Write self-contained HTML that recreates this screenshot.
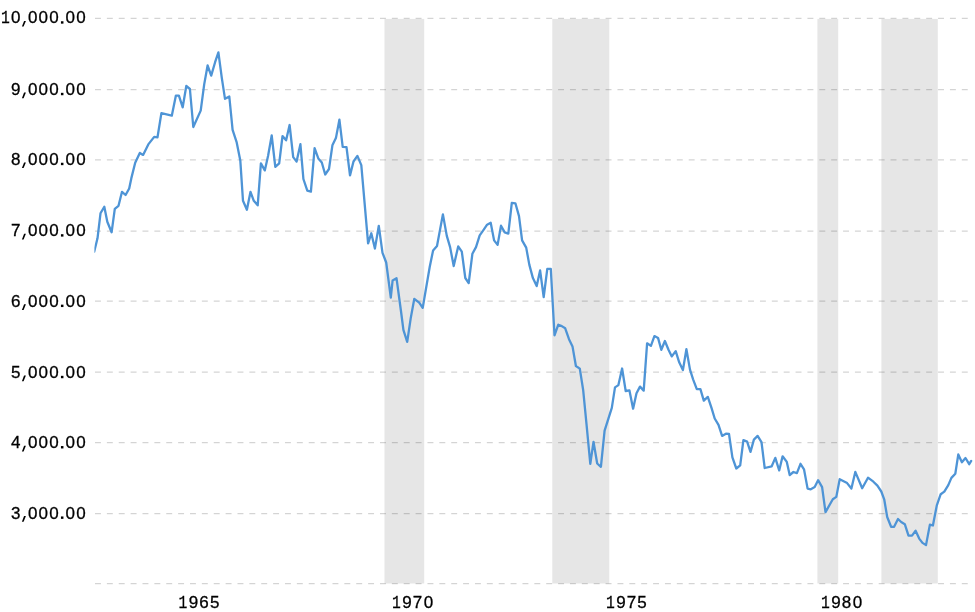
<!DOCTYPE html><html><head><meta charset="utf-8"><style>html,body{margin:0;padding:0;background:#fff;overflow:hidden}svg{display:block;will-change:transform}</style></head><body>
<svg width="975" height="612" viewBox="0 0 975 612">
<rect width="975" height="612" fill="#fff"/>
<rect x="384.5" y="18.9" width="39.7" height="564.6" fill="#e6e6e6"/>
<rect x="552.3" y="18.9" width="57.0" height="564.6" fill="#e6e6e6"/>
<rect x="817.4" y="18.9" width="20.8" height="564.6" fill="#e6e6e6"/>
<rect x="881.4" y="18.9" width="56.4" height="564.6" fill="#e6e6e6"/>
<line x1="95" y1="18.4" x2="970" y2="18.4" stroke="#000" stroke-opacity="0.17" stroke-width="1.25" stroke-dasharray="5.937 5.937"/>
<line x1="95" y1="89.5" x2="970" y2="89.5" stroke="#000" stroke-opacity="0.17" stroke-width="1.25" stroke-dasharray="5.937 5.937"/>
<line x1="95" y1="159.8" x2="970" y2="159.8" stroke="#000" stroke-opacity="0.17" stroke-width="1.25" stroke-dasharray="5.937 5.937"/>
<line x1="95" y1="231.0" x2="970" y2="231.0" stroke="#000" stroke-opacity="0.17" stroke-width="1.25" stroke-dasharray="5.937 5.937"/>
<line x1="95" y1="301.0" x2="970" y2="301.0" stroke="#000" stroke-opacity="0.17" stroke-width="1.25" stroke-dasharray="5.937 5.937"/>
<line x1="95" y1="372.1" x2="970" y2="372.1" stroke="#000" stroke-opacity="0.17" stroke-width="1.25" stroke-dasharray="5.937 5.937"/>
<line x1="95" y1="442.5" x2="970" y2="442.5" stroke="#000" stroke-opacity="0.17" stroke-width="1.25" stroke-dasharray="5.937 5.937"/>
<line x1="95" y1="513.5" x2="970" y2="513.5" stroke="#000" stroke-opacity="0.17" stroke-width="1.25" stroke-dasharray="5.937 5.937"/>
<line x1="95" y1="583.6" x2="970" y2="583.6" stroke="#000" stroke-opacity="0.17" stroke-width="1.25" stroke-dasharray="5.937 5.937"/>
<g font-family="Liberation Sans, sans-serif" font-size="17.0" fill="#000" stroke="#000" stroke-width="0.3">
<text x="5.40" y="23" text-anchor="middle" font-family="Liberation Mono, monospace" font-size="18.5" textLength="8.8" lengthAdjust="spacingAndGlyphs">1</text><text x="15.80" y="23" text-anchor="middle">0</text><path d="M24.10,20.90 L25.90,20.90 L23.60,26.60 L21.90,26.60 Z" stroke="none"/><text x="32.64" y="23" text-anchor="middle">0</text><text x="43.30" y="23" text-anchor="middle">0</text><text x="53.90" y="23" text-anchor="middle">0</text><rect x="60.95" y="21.25" width="2.5" height="2.4" stroke="none"/><text x="70.15" y="23" text-anchor="middle">0</text><text x="80.90" y="23" text-anchor="middle">0</text>
<text x="15.75" y="95" text-anchor="middle">9</text><path d="M24.10,92.47 L25.90,92.47 L23.60,98.17 L21.90,98.17 Z" stroke="none"/><text x="32.64" y="95" text-anchor="middle">0</text><text x="43.30" y="95" text-anchor="middle">0</text><text x="53.90" y="95" text-anchor="middle">0</text><rect x="60.95" y="92.82" width="2.5" height="2.4" stroke="none"/><text x="70.15" y="95" text-anchor="middle">0</text><text x="80.90" y="95" text-anchor="middle">0</text>
<text x="15.75" y="165" text-anchor="middle">8</text><path d="M24.10,162.40 L25.90,162.40 L23.60,168.10 L21.90,168.10 Z" stroke="none"/><text x="32.64" y="165" text-anchor="middle">0</text><text x="43.30" y="165" text-anchor="middle">0</text><text x="53.90" y="165" text-anchor="middle">0</text><rect x="60.95" y="162.75" width="2.5" height="2.4" stroke="none"/><text x="70.15" y="165" text-anchor="middle">0</text><text x="80.90" y="165" text-anchor="middle">0</text>
<text x="15.75" y="236" text-anchor="middle">7</text><path d="M24.10,233.85 L25.90,233.85 L23.60,239.55 L21.90,239.55 Z" stroke="none"/><text x="32.64" y="236" text-anchor="middle">0</text><text x="43.30" y="236" text-anchor="middle">0</text><text x="53.90" y="236" text-anchor="middle">0</text><rect x="60.95" y="234.20" width="2.5" height="2.4" stroke="none"/><text x="70.15" y="236" text-anchor="middle">0</text><text x="80.90" y="236" text-anchor="middle">0</text>
<text x="15.75" y="307" text-anchor="middle">6</text><path d="M24.10,304.30 L25.90,304.30 L23.60,310.00 L21.90,310.00 Z" stroke="none"/><text x="32.64" y="307" text-anchor="middle">0</text><text x="43.30" y="307" text-anchor="middle">0</text><text x="53.90" y="307" text-anchor="middle">0</text><rect x="60.95" y="304.65" width="2.5" height="2.4" stroke="none"/><text x="70.15" y="307" text-anchor="middle">0</text><text x="80.90" y="307" text-anchor="middle">0</text>
<text x="15.75" y="378" text-anchor="middle">5</text><path d="M24.10,375.47 L25.90,375.47 L23.60,381.17 L21.90,381.17 Z" stroke="none"/><text x="32.64" y="378" text-anchor="middle">0</text><text x="43.30" y="378" text-anchor="middle">0</text><text x="53.90" y="378" text-anchor="middle">0</text><rect x="60.95" y="375.82" width="2.5" height="2.4" stroke="none"/><text x="70.15" y="378" text-anchor="middle">0</text><text x="80.90" y="378" text-anchor="middle">0</text>
<text x="15.75" y="448" text-anchor="middle">4</text><path d="M24.10,445.70 L25.90,445.70 L23.60,451.40 L21.90,451.40 Z" stroke="none"/><text x="32.64" y="448" text-anchor="middle">0</text><text x="43.30" y="448" text-anchor="middle">0</text><text x="53.90" y="448" text-anchor="middle">0</text><rect x="60.95" y="446.05" width="2.5" height="2.4" stroke="none"/><text x="70.15" y="448" text-anchor="middle">0</text><text x="80.90" y="448" text-anchor="middle">0</text>
<text x="15.75" y="519" text-anchor="middle">3</text><path d="M24.10,516.10 L25.90,516.10 L23.60,521.80 L21.90,521.80 Z" stroke="none"/><text x="32.64" y="519" text-anchor="middle">0</text><text x="43.30" y="519" text-anchor="middle">0</text><text x="53.90" y="519" text-anchor="middle">0</text><rect x="60.95" y="516.45" width="2.5" height="2.4" stroke="none"/><text x="70.15" y="519" text-anchor="middle">0</text><text x="80.90" y="519" text-anchor="middle">0</text>
<text x="182.85" y="608" text-anchor="middle" font-family="Liberation Mono, monospace" font-size="18.5" textLength="8.8" lengthAdjust="spacingAndGlyphs">1</text><text x="193.45" y="608" text-anchor="middle">9</text><text x="204.10" y="608" text-anchor="middle">6</text><text x="214.80" y="608" text-anchor="middle">5</text>
<text x="396.50" y="608" text-anchor="middle" font-family="Liberation Mono, monospace" font-size="18.5" textLength="8.8" lengthAdjust="spacingAndGlyphs">1</text><text x="407.00" y="608" text-anchor="middle">9</text><text x="417.50" y="608" text-anchor="middle">7</text><text x="428.40" y="608" text-anchor="middle">0</text>
<text x="610.50" y="608" text-anchor="middle" font-family="Liberation Mono, monospace" font-size="18.5" textLength="8.8" lengthAdjust="spacingAndGlyphs">1</text><text x="621.00" y="608" text-anchor="middle">9</text><text x="631.50" y="608" text-anchor="middle">7</text><text x="642.00" y="608" text-anchor="middle">5</text>
<text x="825.50" y="608" text-anchor="middle" font-family="Liberation Mono, monospace" font-size="18.5" textLength="8.8" lengthAdjust="spacingAndGlyphs">1</text><text x="836.10" y="608" text-anchor="middle">9</text><text x="846.50" y="608" text-anchor="middle">8</text><text x="857.40" y="608" text-anchor="middle">0</text>
</g>
<defs><clipPath id="cp"><rect x="94.4" y="0" width="880.6" height="612"/></clipPath></defs>
<polyline clip-path="url(#cp)" points="94.2,251.6 97.5,238.3 100.5,213.3 104.3,206.7 107.3,221.8 111.6,232.3 114.8,208.8 118.5,205.8 122.0,191.8 125.6,195.0 129.2,188.5 131.3,178.4 135.2,162.7 139.8,152.9 143.1,154.9 148.3,144.4 154.2,136.9 157.5,137.3 161.4,113.1 171.8,115.7 175.9,95.6 178.9,95.6 182.7,107.3 186.3,86.0 189.9,89.0 193.3,127.0 200.7,110.6 204.2,84.4 207.6,65.5 211.2,75.6 215.1,62.2 218.4,52.4 221.8,77.9 225.0,98.8 229.3,96.5 232.6,129.8 236.7,142.4 240.3,160.4 243.0,200.8 246.9,209.8 250.5,191.8 253.8,200.8 257.7,205.3 260.9,163.3 264.8,170.4 268.1,155.8 271.7,135.5 275.3,166.9 279.2,163.3 282.5,136.1 286.1,140.3 289.6,125.0 293.2,157.1 296.6,161.6 300.4,144.2 303.4,179.0 307.3,190.7 310.9,191.7 314.6,148.2 318.3,158.4 321.8,162.5 325.2,174.5 329.0,169.0 332.4,145.3 335.9,138.1 339.4,119.7 342.7,146.9 346.5,147.2 350.0,175.4 353.5,161.5 357.4,155.9 361.3,165.1 368.1,243.4 371.3,233.3 374.9,248.6 378.8,225.8 382.5,252.8 386.2,262.5 390.8,297.6 392.6,280.5 396.5,278.2 400.9,310.5 403.4,329.9 407.2,341.8 410.7,318.4 414.3,298.8 419.2,302.7 422.7,307.9 429.7,267.0 433.1,250.4 437.0,246.0 442.9,214.4 446.8,235.9 450.1,247.1 453.7,266.0 458.2,246.4 461.8,251.6 465.3,278.0 468.7,283.1 472.4,253.7 476.0,247.1 479.7,235.3 483.4,230.1 487.1,224.7 490.7,222.8 494.1,240.4 497.6,244.9 501.0,225.7 504.7,232.4 508.3,233.6 511.8,202.9 515.4,203.3 519.0,216.1 522.1,240.4 526.2,247.6 529.3,264.6 532.9,278.1 536.7,286.1 540.1,270.4 543.7,297.1 547.3,268.9 550.8,268.9 554.5,335.3 558.3,324.7 561.8,326.1 565.2,328.3 569.0,339.2 572.5,346.4 575.9,366.0 579.8,368.6 583.2,390.3 586.5,424.1 590.3,463.8 593.5,441.8 597.2,463.5 600.9,466.8 604.6,430.7 611.8,407.9 615.0,387.4 618.4,385.1 622.1,368.5 625.7,391.0 629.4,390.3 633.1,408.7 636.5,393.2 640.0,386.6 643.7,390.6 647.1,343.3 650.9,345.9 654.4,336.1 658.1,338.1 661.3,349.8 664.9,341.0 668.5,349.8 671.8,356.4 675.7,351.1 679.2,362.3 682.9,370.1 686.4,349.2 690.0,369.6 693.1,379.3 696.8,389.1 700.4,389.1 703.8,400.6 707.8,396.9 711.5,407.9 714.7,418.5 718.5,424.9 722.1,435.9 725.9,433.7 729.0,434.0 732.4,457.3 736.3,468.5 740.2,465.3 743.4,440.1 747.1,441.6 750.5,451.9 753.9,439.6 757.6,435.9 761.5,442.1 764.7,468.0 771.7,466.3 775.3,457.9 779.2,470.4 782.6,456.3 786.8,461.9 789.7,475.1 793.4,472.0 796.9,473.1 800.5,463.8 804.0,469.3 807.6,488.6 810.8,489.3 814.7,487.1 818.1,480.2 822.1,487.1 825.5,512.1 832.8,499.3 836.3,496.9 839.7,479.2 847.1,483.1 851.4,488.5 855.3,471.9 862.2,488.3 868.0,477.7 873.4,481.7 877.4,485.6 881.3,491.5 884.2,499.3 887.2,517.0 891.1,526.8 894.1,526.8 898.0,519.0 901.2,522.0 904.8,524.2 908.5,535.6 912.0,535.6 915.6,530.7 919.2,538.6 922.5,542.9 926.0,545.1 929.9,524.6 932.9,525.5 936.8,505.4 940.7,494.2 944.3,491.6 948.3,485.1 951.4,477.9 955.3,473.7 958.3,454.4 961.9,462.2 965.5,458.0 969.2,464.2 971.2,460.9" fill="none" stroke="#4e94d6" stroke-width="2.3" stroke-linejoin="round" stroke-linecap="round"/>
</svg></body></html>
